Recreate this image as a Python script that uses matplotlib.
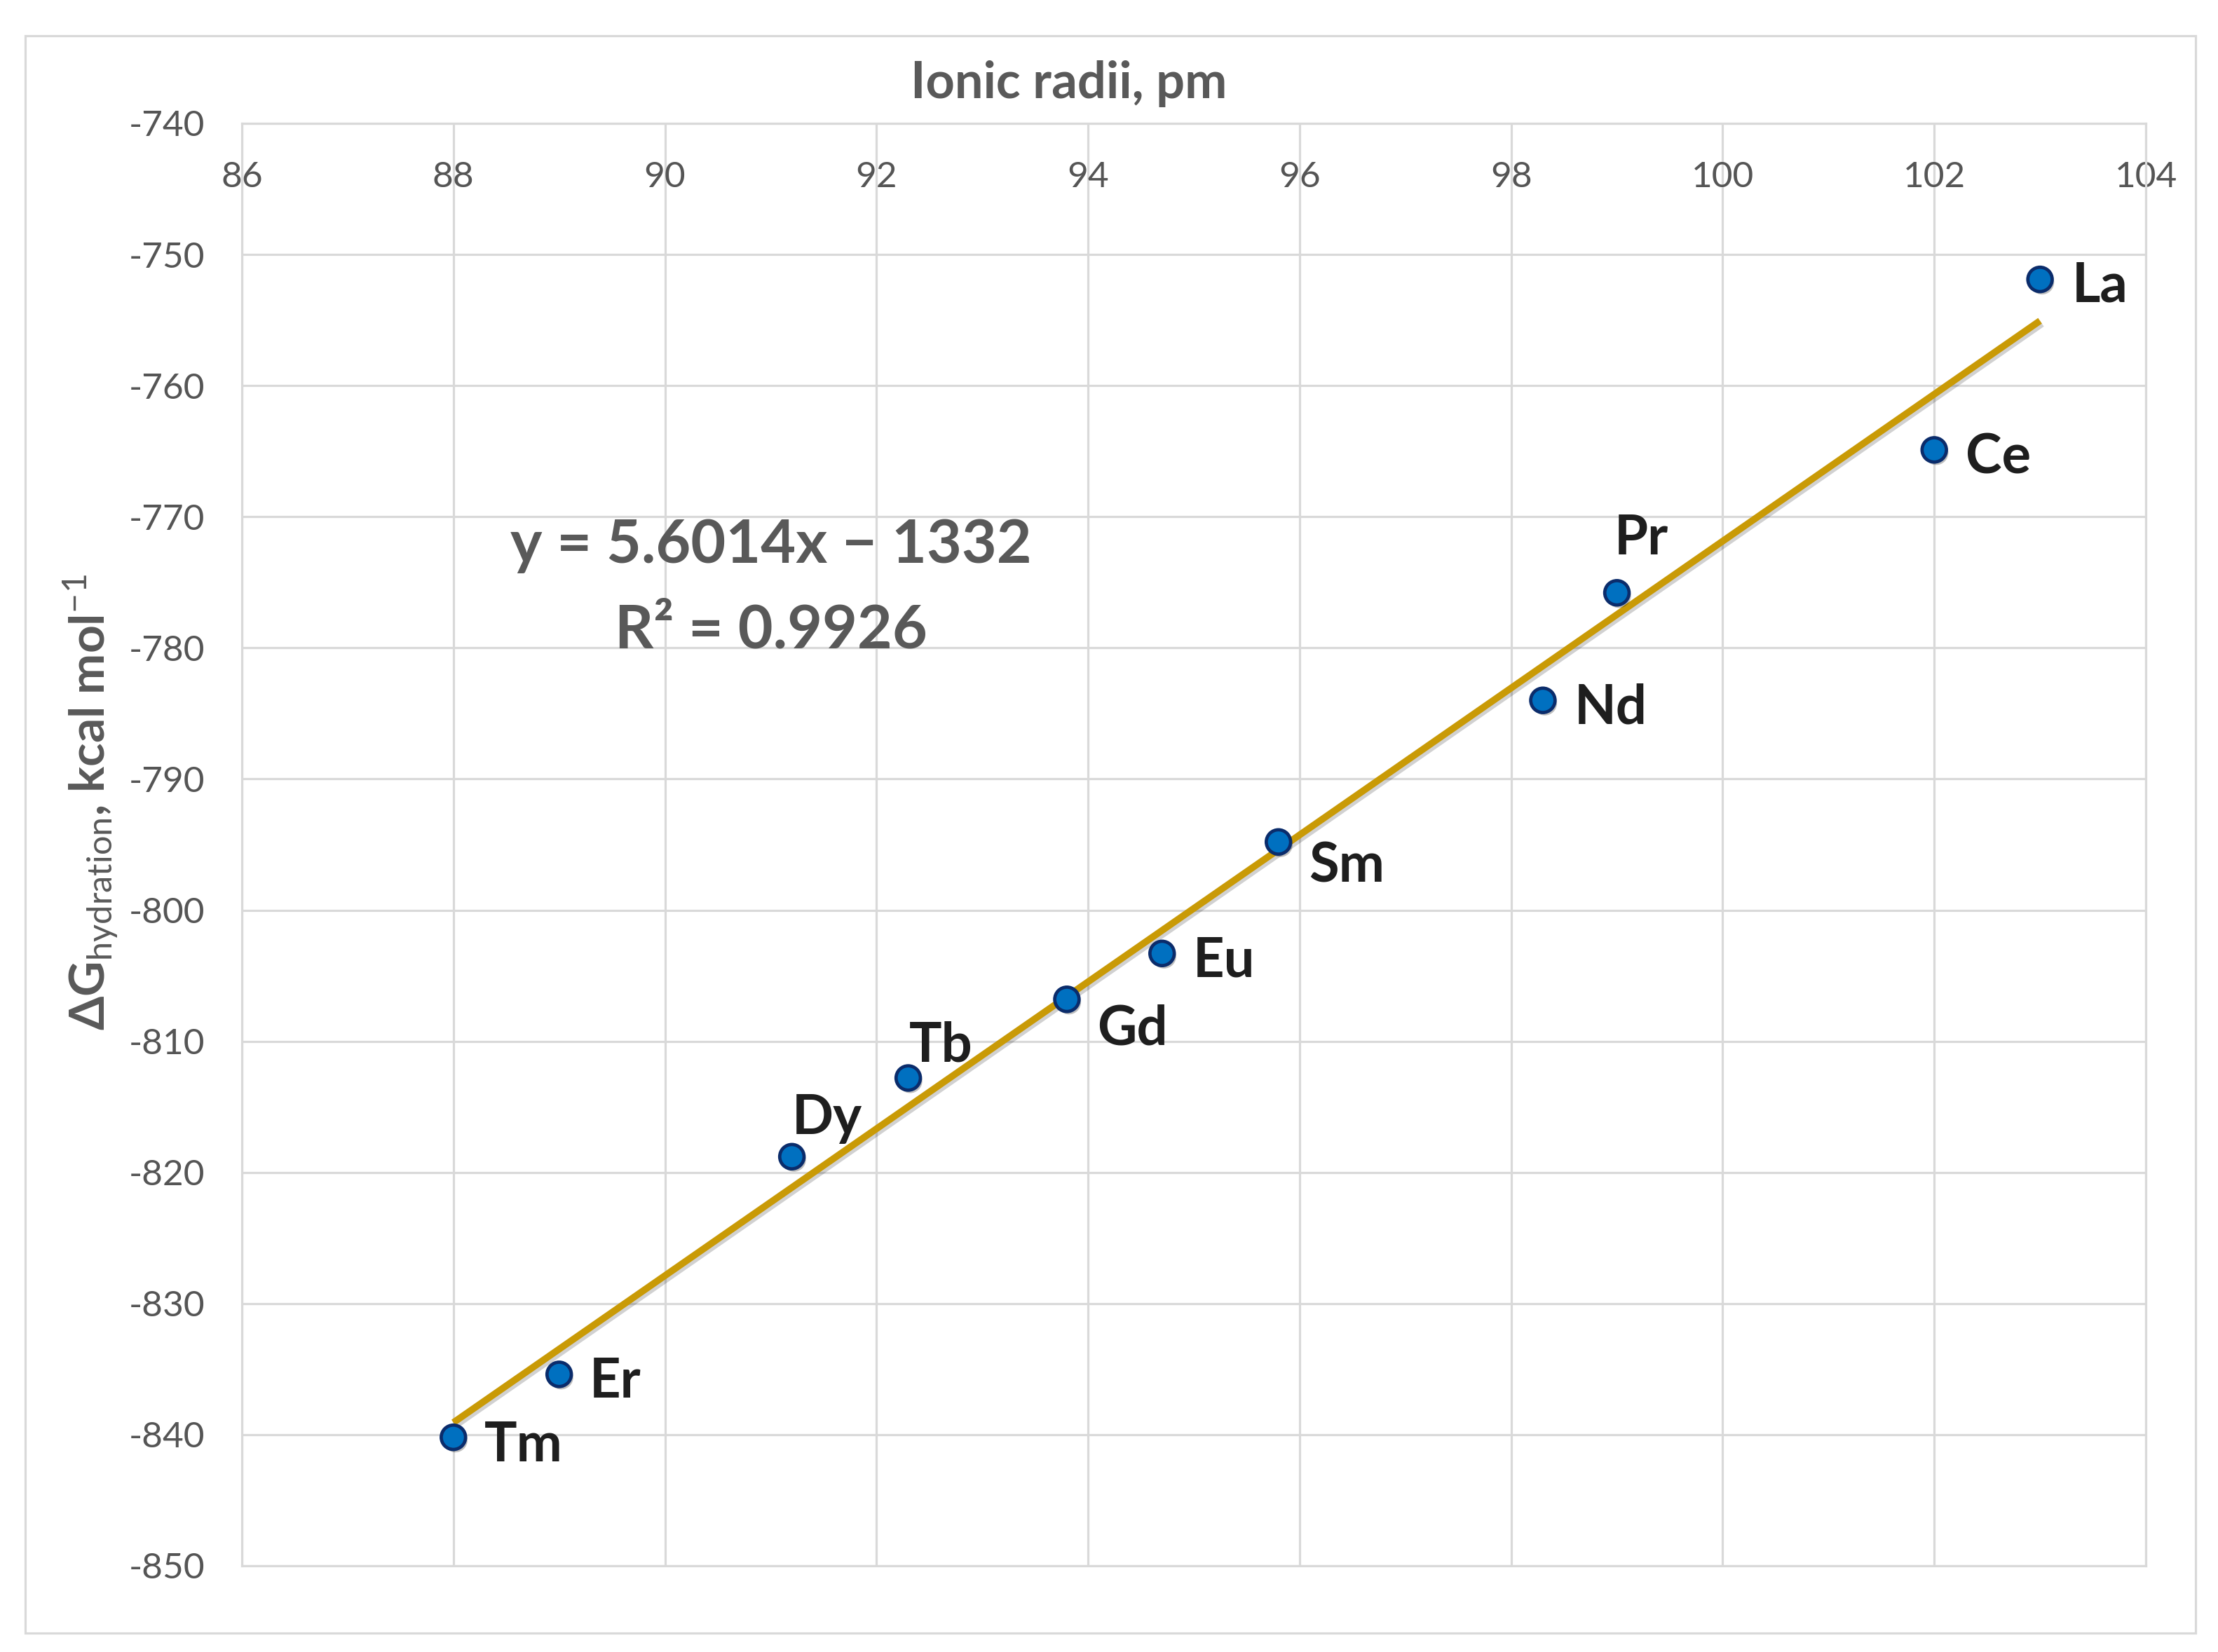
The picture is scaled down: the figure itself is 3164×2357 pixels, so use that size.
import matplotlib
matplotlib.use('Agg')
import matplotlib.pyplot as plt
import matplotlib.patheffects as pe
from matplotlib.patches import Rectangle
import numpy as np

# ---------------- data ----------------
elements = ['La', 'Ce', 'Pr', 'Nd', 'Sm', 'Eu', 'Gd', 'Tb', 'Dy', 'Er', 'Tm']
ionic_radii = [103.0, 102.0, 99.0, 98.3, 95.8, 94.7, 93.8, 92.3, 91.2, 89.0, 88.0]
dG_hydration = [-751.9, -764.9, -775.8, -784.0, -794.8, -803.3, -806.8,
                -812.8, -818.8, -835.4, -840.2]
fit_slope = 5.6014
fit_intercept = -1332.0
r_squared = 0.9926
x_ticks = [86, 88, 90, 92, 94, 96, 98, 100, 102, 104]
y_ticks = [-740, -750, -760, -770, -780, -790, -800, -810, -820, -830, -840, -850]

# label placement (offset in points from marker centre to text left / middle)
label_offsets = {
    'La': (33, -2), 'Ce': (32, -3), 'Pr': (-3, 60), 'Nd': (32, -3),
    'Sm': (31, -20), 'Eu': (32, -3), 'Gd': (31, -26), 'Tb': (1, 38),
    'Dy': (0, 44), 'Er': (31, -3), 'Tm': (32, -4),
}

# ---------------- style ----------------
plt.rcParams['font.family'] = ['Lato', 'DejaVu Sans']
plt.rcParams['mathtext.fontset'] = 'custom'
plt.rcParams['mathtext.rm'] = 'Lato'
plt.rcParams['mathtext.it'] = 'Lato:italic'
plt.rcParams['mathtext.bf'] = 'Lato:bold'
plt.rcParams['axes.unicode_minus'] = False

GRID = '#D9D9D9'
TXT = '#595959'

W, H = 3164, 2357
fig = plt.figure(figsize=(W / 100, H / 100), dpi=100)
fig.patch.set_facecolor('white')

ax = fig.add_axes([345 / W, (H - 2234) / H, (3061 - 345) / W, (2234 - 176) / H])
ax.set_xlim(86, 104)
ax.set_ylim(-850, -740)
ax.set_xticks(x_ticks)
ax.set_yticks(y_ticks)
ax.set_xticklabels([str(v) for v in x_ticks])
ax.set_yticklabels([str(v) for v in y_ticks])
ax.grid(True, color=GRID, lw=2.3)
ax.set_axisbelow(True)
for s in ax.spines.values():
    s.set_color(GRID)
    s.set_linewidth(2.3)

ax.tick_params(axis='x', bottom=False, top=False, labelbottom=False,
               labeltop=True, length=0, pad=-72, labelsize=37, labelcolor='#555555')
ax.tick_params(axis='y', length=0, pad=38, labelsize=37, labelcolor='#555555')

# trend line
xs = np.array([min(ionic_radii), max(ionic_radii)])
ys = fit_slope * xs + fit_intercept
ax.plot(xs, ys, color='#C99A06', lw=7, solid_capstyle='butt', zorder=3,
        path_effects=[pe.SimpleLineShadow(offset=(2, -3), shadow_color='k', alpha=0.18),
                      pe.Normal()])

# data points
ax.plot(ionic_radii, dG_hydration, linestyle='none', marker='o', ms=25,
        mfc='#0070C0', mec='#0B2C6B', mew=3.4, zorder=4,
        path_effects=[pe.SimplePatchShadow(offset=(2, -3), shadow_rgbFace='k', alpha=0.25),
                      pe.Normal()])

for el, x, y in zip(elements, ionic_radii, dG_hydration):
    ax.annotate(el, (x, y), xytext=label_offsets[el], textcoords='offset points',
                ha='left', va='center_baseline', fontsize=56, fontweight='bold',
                color='#1E1E1E', zorder=5)

# equation
sign = '−' if fit_intercept < 0 else '+'
ax.text(91.0, -773.5, f'y = {fit_slope:.4f}x {sign} {abs(fit_intercept):.0f}',
        ha='center', va='baseline', fontsize=62, fontweight='bold', color=TXT)
ax.text(91.0, -780.0, f'R² = {r_squared:.4f}',
        ha='center', va='baseline', fontsize=62, fontweight='bold', color=TXT)

# axis titles
fig.text(1525 / W, 1 - 140 / H, 'Ionic radii, pm', ha='center', va='baseline',
         fontsize=52, fontweight='bold', color=TXT)
fig.text(129 / W, 1 - 1145 / H,
         'ΔG$_{\\mathrm{hydration}}$, kcal mol$^{\\mathrm{-1}}$',
         rotation=90, ha='center', va='center', fontsize=50, fontweight='bold',
         color=TXT)

# chart-area border
fig.add_artist(Rectangle((36 / W, 1 - 2330 / H), (3132 - 36) / W, (2330 - 51) / H,
                         transform=fig.transFigure, fill=False, edgecolor=GRID,
                         lw=2.3))

fig.savefig('out.png', dpi=100, facecolor='white')
